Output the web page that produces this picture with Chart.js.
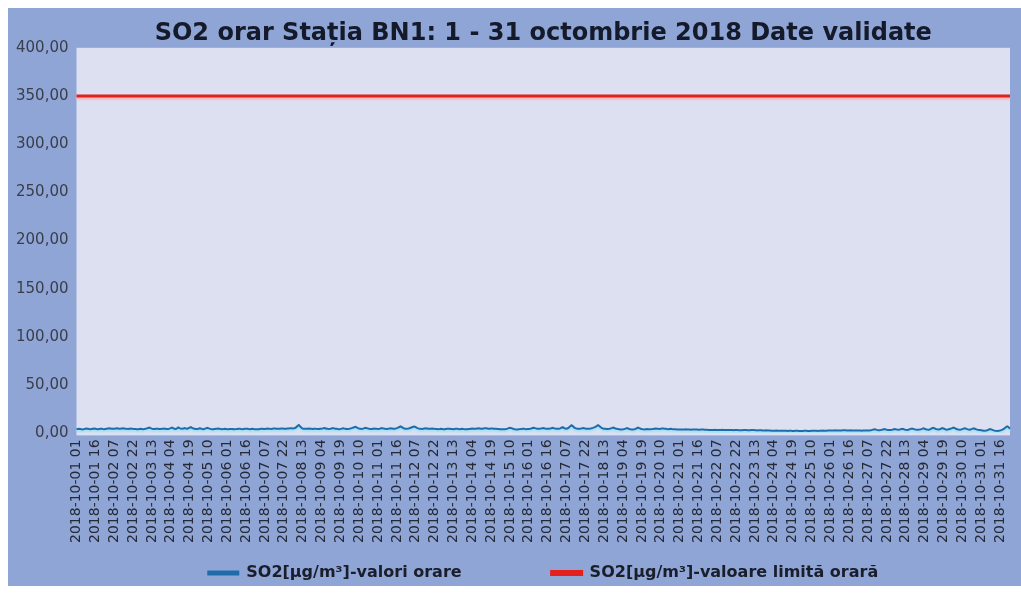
<!DOCTYPE html>
<html>
<head>
<meta charset="utf-8">
<script src="https://cdn.jsdelivr.net/npm/chart.js@4/dist/chart.umd.min.js"></script>
<style>
    html, body { margin: 0; padding: 0; background: #ffffff; overflow: hidden; }
    #frame { position: absolute; left: 8px; top: 8px; width: 1013px; height: 578px; background: #8fa5d6; }
    #c { display: block; }
</style>
</head>
<body>
<div id="frame"><canvas id="c" width="1005" height="578"></canvas></div>
<script>
// hourly SO2 values, one row per day (hours 01 .. 24)
const so2 = [
    4.2,4.5,4.8,4.6,4.3,4.1,4.4,4.7,5.0,4.8,4.5,4.3,4.6,4.9,5.1,4.8,4.5,4.4,4.6,4.8,4.7,4.5,4.4,4.6,
    4.8,5.0,5.2,5.1,4.9,4.7,4.8,5.0,5.3,5.1,4.9,4.8,5.0,5.2,5.1,4.9,4.7,4.6,4.8,5.0,4.9,4.7,4.6,4.5,
    4.4,4.3,4.5,4.7,4.6,4.4,4.5,4.8,5.2,5.6,6.0,5.4,4.9,4.6,4.5,4.7,4.9,4.8,4.6,4.5,4.7,4.9,5.1,4.8,
    4.6,4.5,4.9,5.4,5.9,5.3,4.8,4.6,5.2,6.2,5.5,4.9,4.7,5.0,5.6,5.1,4.8,5.3,6.0,6.4,5.6,5.0,4.8,4.6,
    4.5,4.8,5.3,5.0,4.6,4.4,4.7,5.2,5.8,5.3,4.9,4.6,4.4,4.3,4.5,4.7,4.9,5.1,4.8,4.6,4.4,4.5,4.7,4.6,
    4.4,4.3,4.5,4.6,4.5,4.3,4.2,4.4,4.6,4.8,4.7,4.5,4.4,4.6,4.8,4.9,4.7,4.5,4.4,4.6,4.7,4.5,4.4,4.3,
    4.3,4.4,4.6,4.8,4.7,4.5,4.6,4.8,5.0,4.9,4.7,4.6,4.8,5.0,5.1,4.9,4.8,4.7,4.9,5.1,5.0,4.8,4.7,4.9,
    5.0,5.1,5.3,5.2,5.0,5.2,5.6,6.4,7.8,8.6,7.2,5.8,5.1,4.9,4.8,4.7,4.9,5.0,4.8,4.7,4.6,4.8,4.9,4.7,
    4.6,4.5,4.7,4.9,5.2,5.6,5.3,4.9,4.7,4.6,4.8,5.1,5.5,5.2,4.9,4.7,4.5,4.4,4.6,4.9,5.3,5.0,4.8,4.6,
    4.5,4.7,5.0,5.4,5.9,6.3,6.8,6.2,5.5,5.0,4.8,4.6,4.9,5.3,5.8,5.4,5.0,4.7,4.5,4.6,4.8,5.0,4.9,4.7,
    4.6,4.8,5.1,5.5,5.2,4.9,4.7,4.6,4.8,5.0,5.3,5.1,4.9,4.8,5.0,5.4,6.0,6.6,7.2,6.4,5.6,5.1,4.9,4.8,
    5.0,5.3,5.8,6.3,6.8,7.1,6.5,5.7,5.2,4.9,4.7,4.6,4.8,5.0,5.2,5.0,4.8,4.7,4.9,5.1,4.9,4.7,4.6,4.5,
    4.4,4.5,4.7,4.6,4.4,4.3,4.5,4.7,4.9,4.8,4.6,4.5,4.4,4.6,4.8,4.7,4.5,4.4,4.6,4.7,4.5,4.4,4.3,4.4,
    4.5,4.6,4.8,5.0,4.9,4.7,4.8,5.0,5.2,5.1,4.9,4.8,5.0,5.2,5.3,5.1,4.9,4.8,5.0,5.1,4.9,4.8,4.7,4.6,
    4.5,4.4,4.3,4.2,4.3,4.4,4.6,4.9,5.4,5.9,5.5,5.0,4.6,4.3,4.1,4.0,4.2,4.4,4.6,4.8,4.7,4.5,4.4,4.5,
    4.6,4.8,5.1,5.5,5.9,5.4,5.0,4.8,4.7,4.9,5.2,5.6,5.3,5.0,4.8,4.7,4.9,5.1,5.4,5.7,5.3,5.0,4.9,4.8,
    4.9,5.2,5.8,6.4,5.6,5.1,4.9,5.3,6.2,7.4,8.4,7.6,6.2,5.4,5.0,4.8,4.7,4.9,5.2,5.6,5.3,5.0,4.8,4.7,
    4.8,5.0,5.3,5.7,6.2,6.8,7.6,8.5,7.8,6.6,5.6,5.1,4.9,4.8,4.6,4.5,4.7,5.0,5.5,6.1,5.6,5.0,4.7,4.5,
    4.3,4.1,4.0,4.2,4.5,4.9,5.4,5.0,4.6,4.3,4.1,4.0,4.2,4.6,5.3,5.9,5.4,4.8,4.4,4.2,4.1,4.3,4.5,4.4,
    4.3,4.2,4.4,4.6,4.8,5.0,4.9,4.7,4.6,4.8,5.0,5.1,4.9,4.7,4.5,4.4,4.6,4.7,4.5,4.4,4.3,4.2,4.1,4.0,
    4.0,3.9,3.9,4.0,4.1,4.2,4.1,4.0,3.9,3.8,3.9,4.0,4.1,4.0,3.9,3.8,3.8,3.9,4.0,3.9,3.8,3.7,3.7,3.6,
    3.6,3.5,3.5,3.6,3.7,3.6,3.5,3.4,3.5,3.6,3.7,3.6,3.5,3.4,3.4,3.5,3.6,3.5,3.4,3.3,3.4,3.5,3.4,3.3,
    3.3,3.2,3.3,3.4,3.5,3.4,3.3,3.2,3.3,3.4,3.5,3.4,3.3,3.2,3.1,3.2,3.3,3.2,3.1,3.0,3.1,3.2,3.1,3.0,
    2.9,2.8,2.7,2.7,2.8,2.9,2.8,2.7,2.6,2.6,2.7,2.8,2.7,2.6,2.5,2.6,2.7,2.6,2.5,2.5,2.6,2.7,2.6,2.5,
    2.5,2.4,2.5,2.6,2.7,2.6,2.5,2.4,2.5,2.6,2.7,2.8,2.7,2.6,2.5,2.6,2.7,2.8,2.9,2.8,2.7,2.8,2.9,3.0,
    3.0,2.9,3.0,3.1,3.2,3.1,3.0,2.9,3.0,3.1,3.2,3.3,3.2,3.1,3.0,3.1,3.2,3.1,3.0,2.9,3.0,3.1,3.0,2.9,
    2.9,2.8,2.9,3.0,3.1,3.0,2.9,3.0,3.2,3.5,3.9,4.3,4.0,3.6,3.3,3.2,3.4,3.7,4.1,4.4,4.1,3.8,3.6,3.5,
    3.6,3.8,4.1,4.5,4.2,3.9,3.7,3.9,4.3,4.8,4.5,4.1,3.8,3.6,3.8,4.2,4.7,5.1,4.7,4.2,3.9,3.7,3.8,4.0,
    4.3,4.7,5.2,4.8,4.3,4.0,3.8,4.1,4.6,5.3,5.8,5.2,4.6,4.2,4.0,4.3,4.8,5.4,5.0,4.5,4.1,3.9,4.2,4.6,
    5.0,5.5,6.1,5.5,4.8,4.3,4.0,3.8,4.0,4.4,4.9,5.3,4.9,4.4,4.1,3.9,4.2,4.7,5.2,4.8,4.3,3.9,3.6,3.4,
    3.2,3.0,2.8,2.7,2.9,3.3,3.9,4.5,4.1,3.6,3.1,2.8,2.6,2.5,2.7,3.0,3.4,3.9,4.6,5.6,6.8,7.3,6.2,4.8
];

const limitValue = 350;
const labelStep = 15; // a date label every 15 hours

// hour categories: 2018-10-01 01 ... 2018-11-01 00
const hours = [];
for (let d = 1; d <= 31; d++) {
    for (let h = 1; h <= 24; h++) {
        const day = h === 24 ? d + 1 : d;
        const month = day > 31 ? '11' : '10';
        const dd = day > 31 ? 1 : day;
        hours.push('2018-' + month + '-' + String(dd).padStart(2, '0') + ' ' + String(h % 24).padStart(2, '0'));
    }
}

const font = 'DejaVu Sans';

// plot area background, soft highlight under the lines, legend moved down
const plotBg = {
    id: 'plotBg',
    afterLayout(chart) {
        // wide gap between legend items uses labels.padding, which also pads the top:
        // pull the legend up so its row sits near the bottom edge
        const lg = chart.legend;
        const p = lg.options.labels.padding;
        lg.top = lg.bottom - p - 21;
    },
    beforeDraw(chart) {
        const {ctx, chartArea} = chart;
        ctx.save();
        ctx.fillStyle = '#dde0f1';
        ctx.fillRect(chartArea.left, chartArea.top, chartArea.right - chartArea.left, chartArea.bottom - chartArea.top + 2);
        ctx.restore();
    },
    beforeDatasetDraw(chart, args) {
        const ctx = chart.ctx;
        ctx.save();
        ctx.shadowColor = args.index === 0 ? 'rgba(150,225,250,0.95)' : 'rgba(255,170,170,0.8)';
        ctx.shadowOffsetY = 2;
        ctx.shadowBlur = 2;
    },
    afterDatasetDraw(chart) {
        chart.ctx.restore();
    }
};

new Chart(document.getElementById('c'), {
    type: 'line',
    data: {
        labels: hours,
        datasets: [
            {
                label: 'SO2[µg/m³]-valori orare',
                data: so2,
                borderColor: '#1f6cab',
                backgroundColor: '#1f6cab',
                borderWidth: 2,
                pointRadius: 0,
                tension: 0,
                fill: false
            },
            {
                label: 'SO2[µg/m³]-valoare limită orară',
                data: [{x: hours[0], y: limitValue}, {x: hours[hours.length - 1], y: limitValue}],
                borderColor: '#e3201c',
                backgroundColor: '#e3201c',
                borderWidth: 3,
                pointRadius: 0,
                fill: false
            }
        ]
    },
    options: {
        responsive: false,
        animation: false,
        layout: { padding: { left: 0, right: 3, top: 0, bottom: 0 } },
        plugins: {
            title: {
                display: true,
                fullSize: false,
                text: 'SO2 orar Stația BN1: 1 - 31 octombrie 2018 Date validate',
                color: '#141a2a',
                font: { family: font, size: 24, weight: 'bold' },
                padding: { top: 11, bottom: 0 }
            },
            legend: {
                position: 'bottom',
                fullSize: false,
                maxHeight: 37,
                labels: {
                    color: '#1a1d2a',
                    font: { family: font, size: 16, weight: 'bold' },
                    boxWidth: 30,
                    boxHeight: 3,
                    padding: 90
                }
            },
            tooltip: { enabled: false }
        },
        scales: {
            x: {
                grid: { display: false, drawTicks: false },
                border: { display: false },
                afterFit(scale) { scale.paddingRight = 0; },
                ticks: {
                    autoSkip: false,
                    maxRotation: 90,
                    minRotation: 90,
                    padding: 6,
                    color: '#262a36',
                    font: { family: font, size: 14 },
                    callback: function (val, i) {
                        return i % labelStep === 0 ? this.getLabelForValue(val) : null;
                    }
                }
            },
            y: {
                min: 0,
                max: 400,
                grid: { display: false, drawTicks: false },
                border: { display: false },
                ticks: {
                    stepSize: 50,
                    padding: 8,
                    color: '#3a3e4a',
                    font: { family: font, size: 15 },
                    callback: v => v.toFixed(2).replace('.', ',')
                }
            }
        }
    },
    plugins: [plotBg]
});
</script>
</body>
</html>
